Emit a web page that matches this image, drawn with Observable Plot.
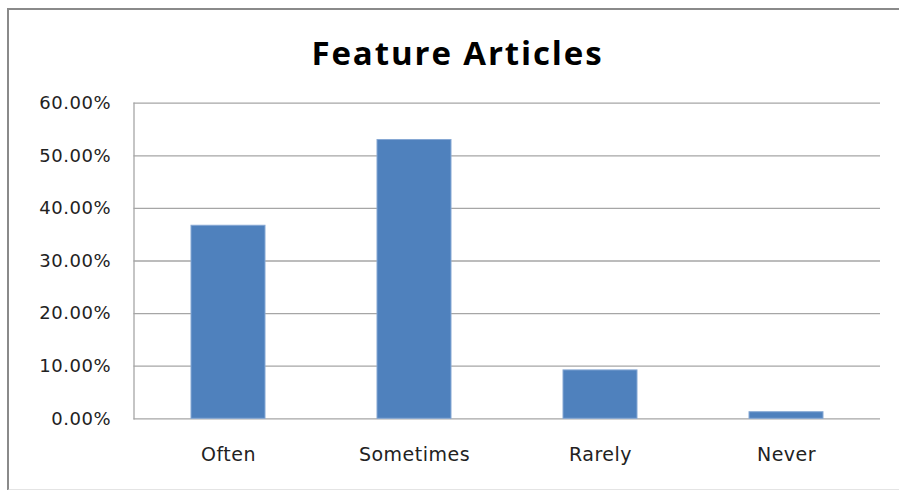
<!DOCTYPE html>
<html><head><meta charset="utf-8">
<script src="https://cdn.jsdelivr.net/npm/d3@7"></script>
<script src="https://cdn.jsdelivr.net/npm/@observablehq/plot@0.6"></script>
<style>
body{margin:0;background:#fff;width:899px;height:490px;overflow:hidden;position:relative;}
#frame{position:absolute;left:7px;top:8px;width:900px;height:479px;border-left:2px solid #8a8a8a;border-top:2px solid #8a8a8a;border-bottom:2px solid #e4e4e4;}
#title{position:absolute;left:0;width:915px;top:36px;text-align:center;font-family:"Open Sans";font-weight:bold;font-size:33px;line-height:1;letter-spacing:1.9px;color:#000;}
#chart{position:absolute;left:0;top:90px;}
</style></head>
<body>
<div id="frame"></div>
<div id="title">Feature Articles</div>
<div id="chart"></div>
<script>
const categories = ["Often", "Sometimes", "Rarely", "Never"];
const values = [0.367, 0.530, 0.092, 0.0125];
const yTicks = [0, 0.1, 0.2, 0.3, 0.4, 0.5, 0.6];

const data = categories.map((c, i) => ({category: c, value: values[i]}));

const chart = Plot.plot({
  width: 899,
  height: 400,
  marginLeft: 133.5,
  marginRight: 19,
  marginTop: 12.7,
  marginBottom: 71.7,
  style: {fontFamily: "DejaVu Sans", background: "transparent", color: "#222"},
  x: {domain: categories, paddingInner: 0.6, paddingOuter: 0.3, label: null},
  y: {domain: [0, 0.6], label: null},
  marks: [
    Plot.ruleY(yTicks, {stroke: "#a6a6a6", strokeWidth: 1.3}),
    Plot.frame({anchor: "left", stroke: "#a6a6a6", strokeWidth: 1.3}),
    Plot.barY(data, {x: "category", y: "value", fill: "#4f81bd", stroke: "#86a8d4", strokeWidth: 1}),
    Plot.axisY({ticks: yTicks, tickSize: 0, tickPadding: 23, fontSize: 18, tickFormat: d => (d * 100).toFixed(2) + "%", label: null}),
    Plot.axisX({tickSize: 0, tickPadding: 29, fontSize: 19, label: null})
  ]
});
chart.querySelectorAll("text").forEach(t => t.style.letterSpacing = "0.5px");
document.getElementById("chart").appendChild(chart);
</script>
</body></html>
